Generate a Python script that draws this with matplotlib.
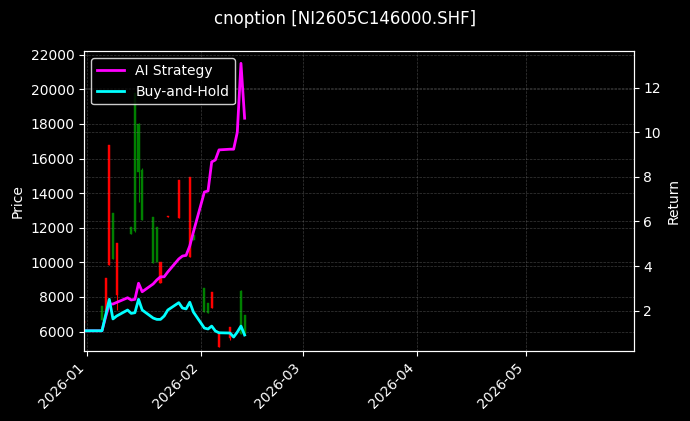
import datetime as dt
import matplotlib
matplotlib.use("Agg")
import matplotlib.pyplot as plt
import matplotlib.dates as mdates

# line data (return axis), business days
line_dates = ["2025-12-31", "2026-01-02", "2026-01-05", "2026-01-06", "2026-01-07",
              "2026-01-08", "2026-01-09", "2026-01-12", "2026-01-13", "2026-01-14",
              "2026-01-15", "2026-01-16", "2026-01-19", "2026-01-20", "2026-01-21",
              "2026-01-22", "2026-01-23", "2026-01-26", "2026-01-27", "2026-01-28",
              "2026-01-29", "2026-01-30", "2026-02-02", "2026-02-03", "2026-02-04",
              "2026-02-05", "2026-02-06", "2026-02-09", "2026-02-10", "2026-02-11",
              "2026-02-12", "2026-02-13"]
strategy = [1.10, 1.10, 1.10, 1.72, 2.30, 2.30, 2.37, 2.58, 2.48, 2.51,
            3.23, 2.85, 3.20, 3.38, 3.52, 3.52, 3.74, 4.32, 4.45, 4.48,
            4.90, 5.53, 7.32, 7.37, 8.67, 8.76, 9.21, 9.24, 9.24, 10.0,
            13.09, 10.63]
buy_hold = [1.10, 1.10, 1.10, 1.80, 2.51, 1.63, 1.76, 2.03, 1.88, 1.91,
            2.51, 2.03, 1.67, 1.61, 1.61, 1.76, 2.03, 2.36, 2.12, 2.08,
            2.38, 1.94, 1.22, 1.18, 1.31, 1.09, 1.01, 1.00, 0.82, 1.04,
            1.31, 0.91]

# candles (price axis)
candle_dates = ["2025-12-31", "2026-01-05", "2026-01-06", "2026-01-07", "2026-01-08",
                "2026-01-09", "2026-01-13", "2026-01-14", "2026-01-15", "2026-01-16",
                "2026-01-19", "2026-01-20", "2026-01-21", "2026-01-23", "2026-01-26",
                "2026-01-29", "2026-01-30", "2026-02-02", "2026-02-03", "2026-02-04",
                "2026-02-06", "2026-02-09", "2026-02-12", "2026-02-13"]
opens = [6600, 6660, 9100, 16780, 10200, 11100, 11640, 11800, 15200, 12440,
         9960, 10010, 10040, 12680, 14760, 14950, 11300, 7150, 7060, 8300,
         5990, 6250, 5850, 5850]
closes = [6500, 7470, 7200, 9850, 12850, 8100, 12060, 19800, 18000, 15330,
          12640, 12040, 8800, 12600, 12560, 10325, 11600, 8500, 7640, 7340,
          5120, 5600, 8350, 6950]
highs = [6600, 7470, 9100, 16780, 12850, 11100, 12060, 19800, 18050, 15440,
         12640, 12040, 10040, 12680, 14760, 14950, 11870, 8500, 7640, 8300,
         5990, 6280, 8400, 6950]
lows = [6500, 6660, 6900, 9850, 10200, 7250, 11640, 11740, 13480, 12440,
        9960, 10010, 8790, 12600, 12560, 10325, 11290, 7150, 7060, 7340,
        5120, 5510, 5850, 5850]

plt.style.use("dark_background")
fig = plt.figure(figsize=(6.9, 4.21), dpi=100)
ax = fig.add_axes([84 / 690, 1 - 351 / 421, (633.5 - 84) / 690, (351 - 51.3) / 421])
ax2 = ax.twinx()

cd = [dt.datetime.strptime(d, "%Y-%m-%d") for d in candle_dates]
ld = [dt.datetime.strptime(d, "%Y-%m-%d") for d in line_dates]

# candles: thin wick plus a narrow body
for d, o, c, h, l in zip(cd, opens, closes, highs, lows):
    col = "green" if c >= o else "red"
    ax.vlines(d, l, h, color=col, linewidth=0.8)
    ax.bar(d, c - o, bottom=o, width=0.6, color=col, edgecolor=col, linewidth=0.3)

ax2.plot(ld, strategy, color="#ff00ff", linewidth=2, label="AI Strategy")
ax2.plot(ld, buy_hold, color="#00ffff", linewidth=2, label="Buy-and-Hold")

ax.set_ylim(4873, 22197)
ax2.set_ylim(0.193, 13.63)
ax.set_xlim(dt.datetime(2025, 12, 31, 2), dt.datetime(2026, 5, 30, 8))

ax.xaxis.set_major_locator(mdates.MonthLocator())
ax.xaxis.set_major_formatter(mdates.DateFormatter("%Y-%m"))
for lab in ax.get_xticklabels():
    lab.set_rotation(45)
    lab.set_ha("right")

ax.grid(True, color="gray", linestyle="--", linewidth=0.5, alpha=0.45)
ax2.grid(True, color="gray", linestyle="--", linewidth=0.5, alpha=0.45)

ax.set_ylabel("Price")
ax2.set_ylabel("Return")
ax2.legend(loc="upper left", facecolor="black", edgecolor="white")
fig.suptitle("cnoption [NI2605C146000.SHF]", y=0.977, fontsize=12)

fig.savefig("out.png", dpi=100)
